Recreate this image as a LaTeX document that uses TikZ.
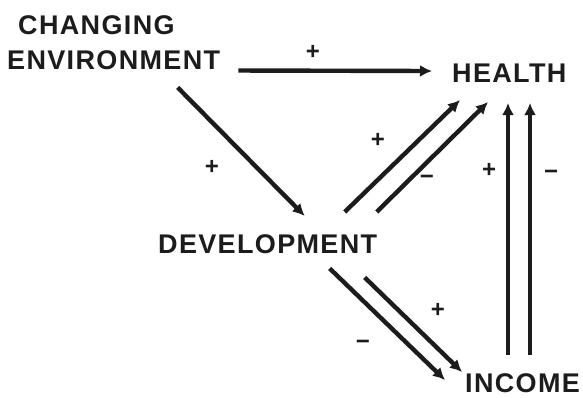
\documentclass[tikz,border=0pt]{standalone}
\usepackage{fontspec}
\setmainfont{Liberation Sans}
\newfontfamily\labfont[LetterSpace=5]{Liberation Sans}
\usetikzlibrary{arrows.meta}
\definecolor{ink}{HTML}{1C1C1C}
\tikzset{
  lab/.style={inner sep=0pt, text=ink, font=\labfont\bfseries\fontsize{27}{35}\selectfont},
  sgn/.style={inner sep=0pt, text=ink, font=\bfseries\fontsize{24}{24}\selectfont},
  arr/.style={line width=4.4pt, draw=ink, -{Latex[length=12pt,width=12pt]}},
}
\begin{document}
\begin{tikzpicture}[x=1pt,y=1pt]
\useasboundingbox[fill=white] (0,0) rectangle (583,-397);
\node[lab, anchor=north west, align=left] (ce) at (7,-15) {\hspace*{11pt}CHANGING\\ENVIRONMENT};
\node[lab, anchor=base west] (health) at (452,-82) {HEALTH};
\node[lab, anchor=base west] (dev) at (158,-253) {DEVELOPMENT};
\node[lab, anchor=base west] (income) at (465,-392) {INCOME};
% arrows
\draw[arr] ([shift={(18,-1)}]ce.south east) -- ([shift={(-20,11)}]health.base west);
\draw[arr] ([shift={(64,-18)}]ce.south) -- ([shift={(37,18)}]dev.north);
\draw[arr] ([shift={(77,22)}]dev.north) -- ([shift={(8,-18)}]health.base west);
\draw[arr] ([shift={(109,22)}]dev.north) -- ([shift={(36,-20)}]health.base west);
\draw[arr] ([shift={(62,-15)}]dev.south) -- ([shift={(-20,12)}]income.base west);
\draw[arr] ([shift={(97,-24)}]dev.south) -- ([shift={(-3,20)}]income.base west);
\draw[arr] ([shift={(43,37)}]income.base west) -- ([shift={(56,-21)}]health.base west);
\draw[arr] ([shift={(65,37)}]income.base west) -- ([shift={(78,-21)}]health.base west);
% signs
\node[sgn] (p1) at (313,-52) {+};
\node[sgn] (p2) at (212,-167) {+};
\node[sgn] (p3) at (378,-140) {+};
\node[sgn] (m3) at (427,-180) {−};
\node[sgn] (p4) at (489,-170) {+};
\node[sgn] (m4) at (551,-175) {−};
\node[sgn] (p5) at (438,-310) {+};
\node[sgn] (m5) at (363,-345) {−};
\end{tikzpicture}
\end{document}
